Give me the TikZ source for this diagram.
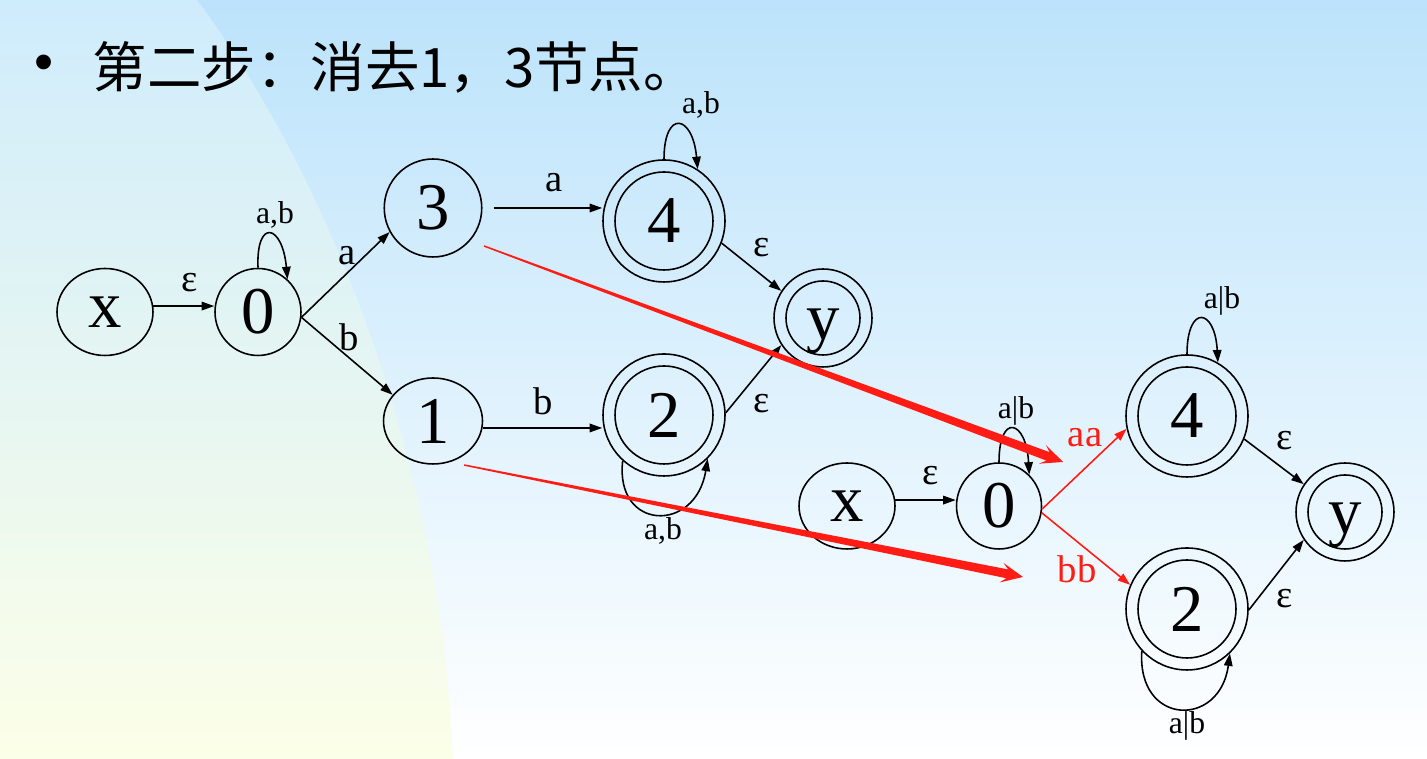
\documentclass[tikz,border=0pt]{standalone}
\usepackage{fontspec}
\setmainfont{Liberation Serif}
\newfontfamily\cjk{Noto Sans CJK SC}
\newfontfamily\bulletfont{Liberation Sans}
\usetikzlibrary{shapes.geometric,arrows.meta,calc}

\definecolor{bgtop}{RGB}{188,227,251}
\definecolor{lefttop}{RGB}{207,236,252}
\definecolor{leftbot}{RGB}{252,255,232}
\definecolor{hot}{RGB}{255,28,20}

\begin{document}
\begin{tikzpicture}[x=0.02cm, y=0.02cm, line width=0.9pt,
    >={Triangle[length=0.25cm, width=0.17cm]},
    state/.style = {ellipse, draw, inner sep=0pt, font=\fontsize{38}{38}\selectfont},
    final/.style = {circle, draw, inner sep=0pt, minimum size=#1,
      font=\fontsize{38}{38}\selectfont},
    low/.style = {text height=25pt, text depth=0pt},
    lab/.style = {font=\fontsize{22}{22}\selectfont, inner sep=0pt},
    slab/.style = {font=\fontsize{18}{18}\selectfont, inner sep=0pt}]

  % slide background
  \useasboundingbox (0,0) rectangle (1427,759);
  \shade[top color=bgtop, bottom color=white] (0,0) rectangle (1427,759);
  \shade[top color=lefttop, bottom color=leftbot] (0,0) -- (0,759) -- (197,759)
    .. controls (330,580) and (440,300) .. (453,0) -- cycle;

  \node[font=\bulletfont\fontsize{31}{31}\selectfont, inner sep=0pt] (dot) at (44,691) {•};
  \node[font=\cjk\fontsize{31}{31}\selectfont, anchor=base west, inner sep=0pt]
    (title) at (92,671) {第二步：消去1，3节点。};

  % before
  \node[state, minimum width=1.92cm, minimum height=1.74cm] (lx) at (105,447) {x};
  \node[state, minimum width=1.72cm, minimum height=1.74cm] (l0) at (258,447) {0};
  \node[state, minimum width=1.95cm, minimum height=1.96cm] (l3) at (433,551) {3};
  \node[state, minimum width=1.98cm, minimum height=1.72cm] (l1) at (433,338) {1};
  \node[final=2.44cm] (l4) at (664,538) {4};
  \node[final=2.44cm] (l2) at (664,344) {2};
  \node[final=1.96cm, low] (ly) at (823,441) {y};

  % after
  \node[state, minimum width=1.92cm, minimum height=1.72cm] (rx) at (847,253) {x};
  \node[state, minimum width=1.70cm, minimum height=1.72cm] (r0) at (999,253) {0};
  \node[final=2.44cm] (r4) at (1187,343) {4};
  \node[final=2.44cm] (r2) at (1187,150) {2};
  \node[final=1.96cm, low] (ry) at (1345,247) {y};

  \foreach \n/\r in {l4/49, l2/49, ly/37, r4/49, r2/49, ry/37}
    \draw (\n.center) circle[radius=\r];

  \draw[->] (lx.7) -- (lx.7 -| l0.west) node[lab] at (190,476) {ε};
  \draw[->] (l0.north) .. controls +(-2,50) and +(-5,55) .. (l0.48)
    node[slab] at (275,544) {a,b};
  \draw[->] (l0.-7) -- (l3.209) node[lab] at (347,503) {a};
  \draw[->] (l0.-7) -- (l1.147) node[lab] at (349,422) {b};
  \draw[->, shorten <=0.22cm] (l3.east) -- (l3.east -| l4.west)
    node[lab] at (554,576) {a};
  \draw[->] (l4.north) .. controls +(0,50) and +(-5,55) .. (l4.57)
    node[slab] at (701,654) {a,b};
  \draw[->] (l4.-21) -- (ly.147) node[lab] at (762,511) {ε};
  \draw[->] (l1.-8) -- (l1.-8 -| l2.west) node[lab] at (543,358) {b};
  \draw[->] (l2.2) -- (ly.213) node[lab] at (762,355) {ε};
  \draw[->] (l2.228) .. controls +(-8,-70) and +(-12,-75) .. (l2.315)
    node[slab] at (663,228) {a,b};

  \draw[->] (rx.7) -- (rx.7 -| r0.west) node[lab] at (931,283) {ε};
  \draw[->] (r0.north) .. controls +(0,50) and +(-3,55) .. (r0.46)
    node[slab] at (1016,348) {a|b};
  \draw[->, hot] (r0.-4) -- (r4.192) node[lab] at (1085,321) {aa};
  \draw[->, hot] (r0.-9) -- (r2.157) node[lab] at (1077,190) {bb};
  \draw[->] (r4.north) .. controls +(0,50) and +(-3,55) .. (r4.60)
    node[slab] at (1222,458) {a|b};
  \draw[->] (r4.-22) -- (ry.146) node[lab] at (1285,318) {ε};
  \draw[->] (r2.-1) -- (ry.214) node[lab] at (1285,160) {ε};
  \draw[->] (r2.223) .. controls +(-5,-75) and +(-10,-75) .. (r2.314)
    node[slab] at (1187,33) {a|b};

  % the two fat red arrows
  \coordinate (s1) at ($(l3)+(51,-38)$);
  \coordinate (e1) at ($(r0)+(64,44)$);
  \coordinate (s2) at ($(l1)+(31,-44)$);
  \coordinate (e2) at ($(r0)+(24,-71)$);
  \foreach \s/\e in {s1/e1, s2/e2} {
    \coordinate (b) at ($(\e)!0.32cm!(\s)$);
    \coordinate (w) at ($(\e)!0.44cm!(\s)$);
    \fill[hot] ($(\s)!0.015cm!90:(\e)$) -- ($(b)!0.09cm!90:(\e)$)
      -- ($(w)!0.2cm!90:(\e)$) -- (\e) -- ($(w)!0.2cm!-90:(\e)$)
      -- ($(b)!0.09cm!-90:(\e)$) -- ($(\s)!0.015cm!-90:(\e)$) -- cycle;
  }
\end{tikzpicture}
\end{document}
